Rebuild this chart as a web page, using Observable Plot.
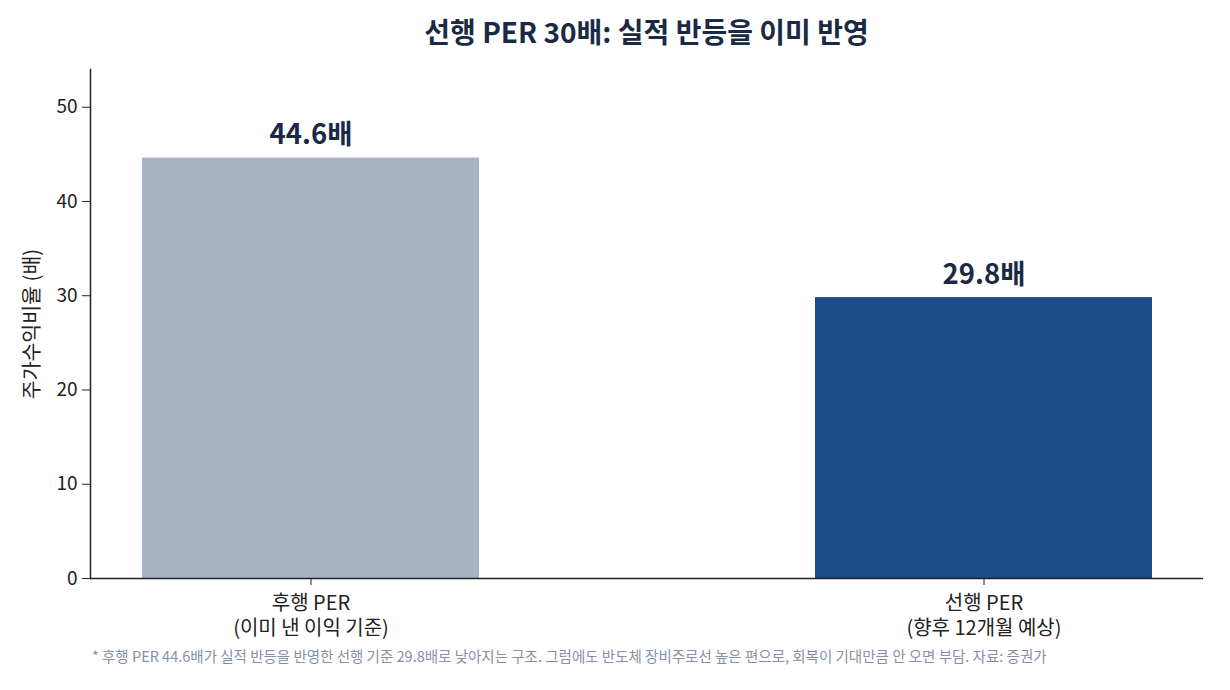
<!DOCTYPE html>
<html>
<head>
<meta charset="utf-8">
<script src="https://cdn.jsdelivr.net/npm/d3@7"></script>
<script src="https://cdn.jsdelivr.net/npm/@observablehq/plot@0.6"></script>
<style>
  html, body { margin: 0; padding: 0; background: #fff; }
  body { width: 1230px; height: 690px; font-family: "Noto Sans CJK KR", "Noto Sans", sans-serif; }
  #title { height: 60px; box-sizing: border-box; padding: 13px 27px 0 90px; text-align: center;
           font-size: 28px; font-weight: 700; color: #1b2a44; line-height: 1.3; }
  #caption { padding-left: 92px; font-size: 14.5px; color: #8391a6; line-height: 1.3; margin-top: 7px; }
</style>
</head>
<body>
<div id="title">선행 PER 30배: 실적 반등을 이미 반영</div>
<div id="chart"></div>
<div id="caption">* 후행 PER 44.6배가 실적 반등을 반영한 선행 기준 29.8배로 낮아지는 구조. 그럼에도 반도체 장비주로선 높은 편으로, 회복이 기대만큼 안 오면 부담. 자료: 증권가</div>
<script>
// PER comparison: trailing vs forward
const categories = ["후행 PER\n(이미 낸 이익 기준)", "선행 PER\n(향후 12개월 예상)"];
const perValues = [44.6, 29.8];
const barColors = ["#a7b2c3", "#1a4b8a"];
const yTicks = [0, 10, 20, 30, 40, 50];

const rows = categories.map((c, i) => ({category: c, value: perValues[i], color: barColors[i]}));

const chart = Plot.plot({
  width: 1230,
  height: 580,
  marginTop: 9,
  marginBottom: 62,
  marginLeft: 90,
  marginRight: 27,
  style: {fontFamily: "'Noto Sans CJK KR', sans-serif", fontSize: "19px", color: "#222"},
  x: {domain: categories, paddingInner: 0.5, paddingOuter: 0.0757, label: null},
  y: {domain: [0, 54], label: null},
  marks: [
    Plot.barY(rows, {x: "category", y: "value", fill: "color"}),
    Plot.text(rows, {
      x: "category", y: "value", text: d => `${d.value}배`,
      lineAnchor: "bottom", dy: -14, fontSize: 27.5, fontWeight: 700, fill: "#1b2a44"
    }),
    Plot.frame({anchor: "left", stroke: "#222", strokeWidth: 1.5}),
    Plot.ruleY([0], {stroke: "#222", strokeWidth: 1.5}),
    Plot.axisY({
      ticks: yTicks, tickSize: 8, tickPadding: 5, stroke: "#222", fontSize: 19
    }),
    Plot.axisY({
      ticks: [], label: "주가수익비율 (배)", labelAnchor: "center", labelArrow: "none",
      labelOffset: 66, fontSize: 20.5
    }),
    Plot.axisX({tickSize: 7, tickPadding: 7, stroke: "#222", fontSize: 20, lineHeight: 1.25, label: null})
  ]
});
document.getElementById("chart").appendChild(chart);
</script>
</body>
</html>
